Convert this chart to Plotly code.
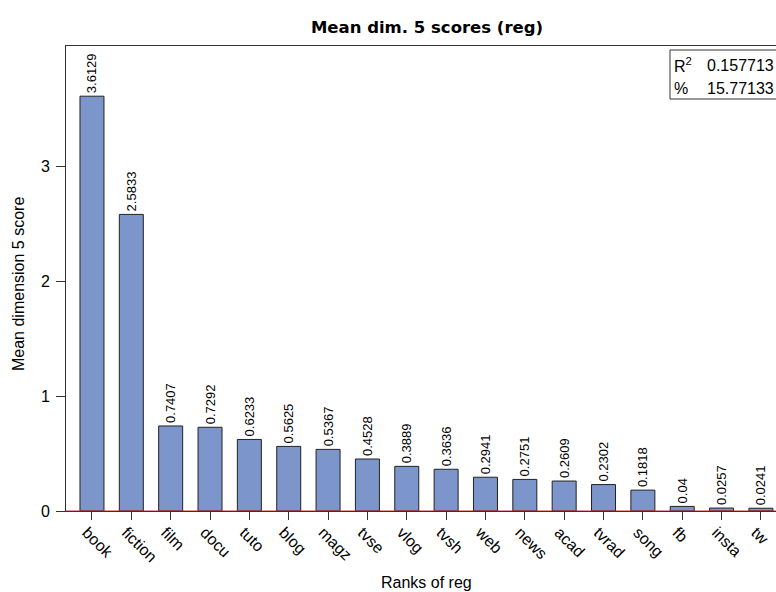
import plotly.graph_objects as go

categories = ["book", "fiction", "film", "docu", "tuto", "blog", "magz", "tvse", "vlog",
              "tvsh", "web", "news", "acad", "tvrad", "song", "fb", "insta", "tw"]
values = [3.6129, 2.5833, 0.7407, 0.7292, 0.6233, 0.5625, 0.5367, 0.4528, 0.3889,
          0.3636, 0.2941, 0.2751, 0.2609, 0.2302, 0.1818, 0.04, 0.0257, 0.0241]
value_labels = ["3.6129", "2.5833", "0.7407", "0.7292", "0.6233", "0.5625", "0.5367", "0.4528",
                "0.3889", "0.3636", "0.2941", "0.2751", "0.2609", "0.2302", "0.1818", "0.04",
                "0.0257", "0.0241"]
r2_value = "0.157713"
pct_value = "15.77133"

W, H = 776, 592
L, R, T, B = 66, 0, 46, 81
pw, ph = W - L - R, H - T - B

def px_x(p):
    return (p - L) / pw

def px_y(p):
    return (H - B - p) / ph

FONT = "Liberation Sans, Arial, sans-serif"

fig = go.Figure()
fig.add_trace(go.Bar(
    x=list(range(len(categories))), y=values,
    text=value_labels, textposition="outside", textangle=-90,
    constraintext="none", cliponaxis=False,
    textfont=dict(size=13, color="black", family=FONT),
    marker=dict(color="#7C95CA", line=dict(color="#222222", width=1)),
    width=0.61, showlegend=False, hoverinfo="skip",
))

fig.update_layout(
    width=W, height=H,
    margin=dict(l=L, r=R, t=T, b=B, autoexpand=False),
    paper_bgcolor="white", plot_bgcolor="white",
    font=dict(family=FONT, color="black", size=16),
    title=dict(text="<b>Mean dim. 5 scores (reg)</b>", x=427 / W, xanchor="center",
               y=1 - 27 / H, yanchor="middle",
               font=dict(family="DejaVu Sans, sans-serif", size=16.5, color="black")),
    xaxis=dict(
        range=[-0.66, -0.66 + pw / 39.35],
        tickmode="array", tickvals=list(range(len(categories))), ticktext=categories,
        tickangle=45, ticks="outside", ticklen=8, tickcolor="#333333",
        showline=True, linecolor="#333333", mirror=True, showgrid=False, zeroline=False,
        tickfont=dict(size=16), ticklabeloverflow="allow", automargin=False,
        ticklabelshift=-5, ticklabelstandoff=-3,
    ),
    yaxis=dict(
        range=[0, 4.05], tickvals=[0, 1, 2, 3], ticks="outside", ticklen=9,
        tickcolor="#333333", showline=True, linecolor="#333333", mirror=True,
        showgrid=False, zeroline=False, tickfont=dict(size=16),
        ticklabelstandoff=3, automargin=False,
    ),
    bargap=0.39,
)

# axis titles
fig.add_annotation(xref="paper", yref="paper", x=px_x(426), y=px_y(582),
                   xanchor="center", yanchor="middle", text="Ranks of reg",
                   showarrow=False, font=dict(size=16))
fig.add_annotation(xref="paper", yref="paper", x=px_x(18), y=px_y(284),
                   xanchor="center", yanchor="middle", text="Mean dimension 5 score",
                   textangle=-90, showarrow=False, font=dict(size=16))

fig.add_shape(type="line", xref="paper", yref="y", x0=0, x1=1, y0=0, y1=0,
              line=dict(color="#d03030", width=1), layer="above")

# R^2 box
fig.add_shape(type="rect", xref="paper", yref="paper",
              x0=px_x(670), x1=px_x(800), y0=px_y(99), y1=px_y(50),
              line=dict(color="#333333", width=1), fillcolor="white", layer="above")
for label, val, ypix in [("R<sup>2</sup>", r2_value, 65), ("%", pct_value, 88)]:
    fig.add_annotation(xref="paper", yref="paper", x=px_x(672), y=px_y(ypix),
                       xanchor="left", yanchor="middle", text=label, showarrow=False,
                       font=dict(size=16, color="black"))
    fig.add_annotation(xref="paper", yref="paper", x=px_x(705), y=px_y(ypix),
                       xanchor="left", yanchor="middle", text=val, showarrow=False,
                       font=dict(size=16, color="black"))

fig.write_html("out.html", config={"displayModeBar": False},
               post_script="document.body.style.margin='0';document.body.style.padding='0';")
